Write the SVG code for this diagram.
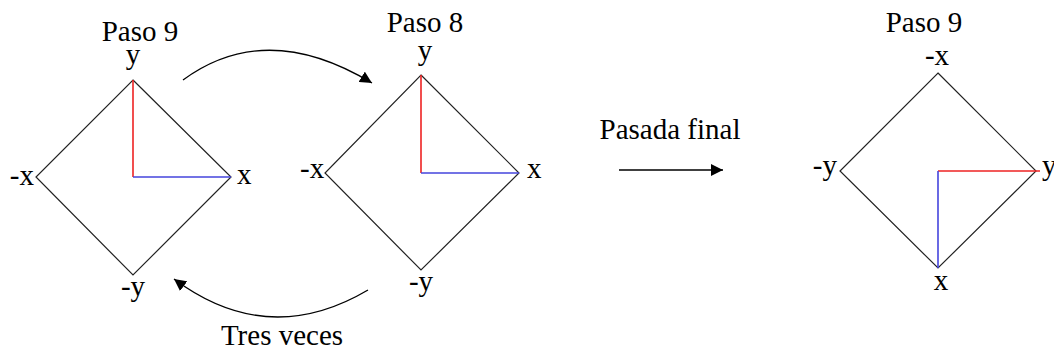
<svg xmlns="http://www.w3.org/2000/svg" width="1054" height="354" viewBox="0 0 1054 354" font-family="Liberation Serif, Times New Roman, DejaVu Serif, Noto Serif, serif">
<style>
text{font-size:29px;fill:#000}
.d{fill:none;stroke:#222;stroke-width:1.2}
.r{stroke:#ee2222;stroke-width:1.6}
.b{stroke:#4444dd;stroke-width:1.6}
.c{fill:none;stroke:#000;stroke-width:1.3}
</style>
<defs>
<marker id="ah" viewBox="0 0 12 12" refX="12" refY="6" markerWidth="12" markerHeight="12" markerUnits="userSpaceOnUse" orient="auto">
<path d="M0,0 L12,6 L0,12 Z" fill="#000"/>
</marker>
</defs>
<rect width="1054" height="354" fill="#fff"/>
<g id="paso9a">
<polygon class="d" points="133,80 231,177 133,275 36,177"/>
<line class="r" x1="133" y1="80" x2="133" y2="177"/>
<line class="b" x1="133" y1="177" x2="231" y2="177"/>
<text x="140" y="41" text-anchor="middle">Paso 9</text>
<text x="133" y="64" text-anchor="middle">y</text>
<text x="34" y="185" text-anchor="end">-x</text>
<text x="237" y="184">x</text>
<text x="133" y="296" text-anchor="middle">-y</text>
</g>
<g id="paso8">
<polygon class="d" points="421,75 519,173 421,270 325,173"/>
<line class="r" x1="421" y1="75" x2="421" y2="173"/>
<line class="b" x1="421" y1="173" x2="519" y2="173"/>
<text x="425" y="32" text-anchor="middle">Paso 8</text>
<text x="425" y="60" text-anchor="middle">y</text>
<text x="300" y="178">-x</text>
<text x="527" y="178">x</text>
<text x="421" y="291" text-anchor="middle">-y</text>
</g>
<g id="paso9b">
<polygon class="d" points="938,73 1036,171 938,268 840,171"/>
<line class="r" x1="938" y1="171" x2="1040" y2="171"/>
<line class="b" x1="938" y1="171" x2="938" y2="268"/>
<text x="924" y="32" text-anchor="middle">Paso 9</text>
<text x="937" y="65" text-anchor="middle">-x</text>
<text x="837" y="175" text-anchor="end">-y</text>
<text x="1042" y="175">y</text>
<text x="941" y="290" text-anchor="middle">x</text>
</g>
<g id="connectors">
<path class="c" d="M183,80 Q266,19 372,83" marker-end="url(#ah)"/>
<path class="c" d="M368,290 Q268,349 174,279" marker-end="url(#ah)"/>
<line class="c" x1="619" y1="170" x2="723" y2="170" marker-end="url(#ah)"/>
<text x="670" y="139" text-anchor="middle">Pasada final</text>
<text x="282" y="345" text-anchor="middle">Tres veces</text>
</g>
</svg>
